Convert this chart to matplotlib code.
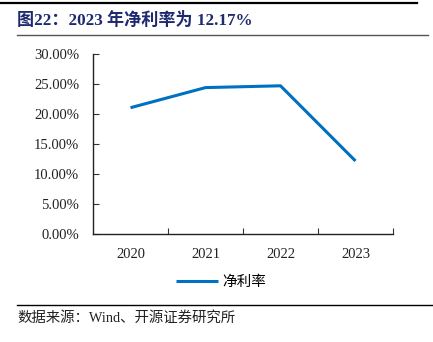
import matplotlib
matplotlib.use('Agg')
import matplotlib.pyplot as plt
from matplotlib.ticker import FuncFormatter, FixedLocator
from matplotlib.lines import Line2D

# 数据
years = ['2020', '2021', '2022', '2023']
net_margin = [21.05, 24.4, 24.7, 12.17]  # 净利率 (%)
y_ticks = [0, 5, 10, 15, 20, 25, 30]

title = '图22：2023 年净利率为 12.17%'
source = '数据来源：Wind、开源证券研究所'
series_name = '净利率'

serif = ['Liberation Serif', 'Noto Sans CJK SC']
line_color = '#0070C0'
title_color = '#1F2A6E'

fig = plt.figure(figsize=(4.33, 3.42), dpi=100)

# 顶部的横线和标题
fig.add_artist(Line2D([0.0, 417 / 433], [1 - 3 / 342, 1 - 3 / 342], color='black', lw=1.6))
fig.text(17 / 433, 1 - 20 / 342, title, family=serif, fontsize=12.3, fontweight='bold',
         color=title_color, va='center', ha='left')
fig.add_artist(Line2D([17 / 433, 428 / 433], [1 - 35 / 342, 1 - 35 / 342], color='#555555', lw=1.0))

ax = fig.add_axes([93 / 433, 1 - 234 / 342, 300 / 433, 180 / 342])
x = list(range(len(years)))
ax.plot(x, net_margin, color=line_color, lw=2.2, solid_capstyle='butt', label=series_name)

ax.set_xlim(-0.5, len(years) - 0.5)
ax.set_ylim(0, 30)
ax.set_yticks(y_ticks)
ax.yaxis.set_major_formatter(FuncFormatter(lambda v, p: f'{v:.2f}%'))

# 类别边界处的刻度，类别中心处的标签
ax.xaxis.set_major_locator(FixedLocator([i + 0.5 for i in x]))
ax.xaxis.set_major_formatter(FuncFormatter(lambda v, p: ''))
ax.xaxis.set_minor_locator(FixedLocator(x))
ax.set_xticklabels(years, minor=True)
ax.tick_params(axis='x', which='major', direction='in', length=4, width=0.8, color='#333333')
ax.tick_params(axis='x', which='minor', length=0, pad=10, labelsize=10.5)
ax.tick_params(axis='y', direction='in', length=4, width=0.8, color='#333333', pad=10, labelsize=10.5)
for lab in ax.get_xticklabels(minor=True) + ax.get_yticklabels():
    lab.set_family(serif)
    lab.set_color('#222222')

for s in ['top', 'right']:
    ax.spines[s].set_visible(False)
for s in ['left', 'bottom']:
    ax.spines[s].set_color('#222222')
    ax.spines[s].set_linewidth(1.0)

leg = fig.legend(loc='center', bbox_to_anchor=(221 / 433, 1 - 282 / 342), frameon=False,
                 prop={'family': serif, 'size': 10.5}, handlelength=2.9, handletextpad=0.3)

# 底部横线和数据来源
fig.add_artist(Line2D([17 / 433, 1.0], [1 - 305 / 342, 1 - 305 / 342], color='black', lw=1.0))
fig.text(17 / 433, 1 - 318 / 342, source, family=serif, fontsize=10.4, color='#222222',
         va='center', ha='left')

fig.savefig('out.png', dpi=100)
